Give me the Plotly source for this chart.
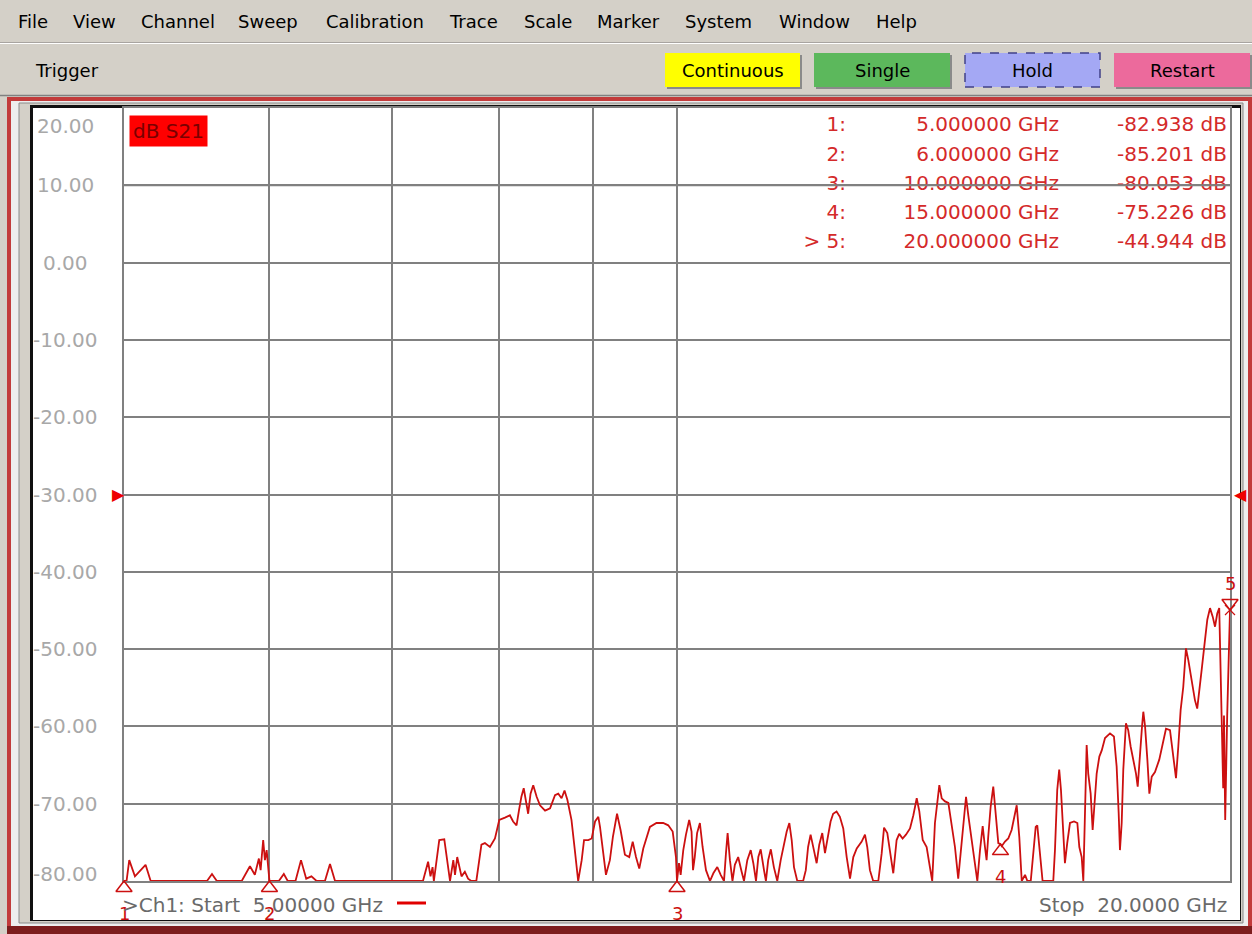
import numpy as np
import plotly.graph_objects as go

# ---------------- data ----------------
freq_ghz = [
    5.000, 5.016, 5.033, 5.069, 5.137, 5.170, 5.548, 5.583, 5.617, 5.795,
    5.855, 5.891, 5.921, 5.934, 5.953, 5.966, 5.979, 6.000, 6.071, 6.109,
    6.139, 6.199, 6.242, 6.283, 6.324, 6.365, 6.432, 6.473, 6.514, 7.273,
    7.320, 7.342, 7.361, 7.373, 7.423, 7.470, 7.524, 7.555, 7.571, 7.592,
    7.633, 7.665, 7.696, 7.727, 7.776, 7.826, 7.860, 7.910, 7.960, 8.003,
    8.060, 8.110, 8.143, 8.178, 8.204, 8.228, 8.252, 8.270, 8.298, 8.323,
    8.351, 8.387, 8.422, 8.476, 8.529, 8.582, 8.617, 8.653, 8.685, 8.716,
    8.761, 8.798, 8.835, 8.874, 8.900, 8.948, 8.986, 9.024, 9.061, 9.080,
    9.117, 9.148, 9.193, 9.228, 9.276, 9.317, 9.368, 9.419, 9.460, 9.499,
    9.538, 9.586, 9.666, 9.746, 9.828, 9.891, 9.946, 9.987, 10.000,
    10.025, 10.046, 10.079, 10.113, 10.154, 10.184, 10.203, 10.225, 10.255, 10.291,
    10.326, 10.370, 10.422, 10.466, 10.518, 10.563, 10.607, 10.633, 10.655, 10.686,
    10.720, 10.752, 10.797, 10.844, 10.876, 10.921, 10.968, 11.004, 11.041, 11.073,
    11.106, 11.152, 11.179, 11.211, 11.248, 11.291, 11.339, 11.388, 11.435, 11.474,
    11.512, 11.546, 11.579, 11.627, 11.713, 11.752, 11.786, 11.823, 11.872, 11.913,
    11.952, 11.997, 12.038, 12.072, 12.123, 12.162, 12.214, 12.265, 12.317, 12.370,
    12.422, 12.473, 12.527, 12.605, 12.657, 12.693, 12.735, 12.788, 12.870, 12.925,
    12.963, 13.016, 13.072, 13.114, 13.169, 13.212, 13.268, 13.324, 13.392, 13.448,
    13.505, 13.549, 13.607, 13.674, 13.730, 13.770, 13.817, 13.858, 13.893, 13.935,
    13.993, 14.051, 14.111, 14.168, 14.226, 14.287, 14.329, 14.366, 14.407, 14.469,
    14.529, 14.571, 14.620, 14.669, 14.711, 14.741, 14.771, 14.816, 14.865, 14.910,
    14.959, 15.000, 15.023, 15.085, 15.147, 15.211, 15.255, 15.308, 15.358, 15.405,
    15.469, 15.514, 15.580, 15.630, 15.677, 15.708, 15.759, 15.813, 16.026, 16.060,
    16.106, 16.146, 16.181, 16.215, 16.262, 16.309, 16.365, 16.448, 16.517, 16.558,
    16.607, 16.641, 16.676, 16.711, 16.744, 16.795, 16.837, 16.871, 16.922, 16.979,
    17.030, 17.100, 17.207, 17.292, 17.351, 17.395, 17.423, 17.461, 17.496, 17.555,
    17.605, 17.658, 17.715, 17.777, 17.815, 17.867, 17.912, 17.941, 17.980, 18.032,
    18.077, 18.131, 18.205, 18.303, 18.382, 18.458, 18.551, 18.628, 18.691, 18.745,
    18.800, 18.862, 18.926, 18.981, 19.062, 19.140, 19.195, 19.243, 19.302, 19.383,
    19.439, 19.505, 19.571, 19.628, 19.683, 19.732, 19.790, 19.830, 19.850, 19.880,
    19.930, 19.982, 20.000,
]
s21_db = [
    -82.938, -80.0, -77.3, -79.4, -77.9, -80.0, -80.0, -79.1, -80.0, -80.0,
    -78.1, -79.2, -77.1, -78.6, -74.7, -77.3, -76.0, -85.201, -80.0, -79.1,
    -80.0, -80.0, -77.3, -79.7, -79.4, -80.0, -80.0, -77.8, -80.0, -80.0,
    -77.5, -79.4, -78.2, -80.0, -74.7, -74.6, -80.0, -77.3, -79.2, -76.9,
    -79.4, -78.8, -79.7, -80.0, -80.0, -75.3, -75.1, -75.6, -74.5, -72.1,
    -71.8, -71.5, -72.3, -72.8, -70.8, -69.1, -68.0, -69.5, -71.3, -68.7,
    -67.6, -69.1, -70.2, -70.9, -70.6, -68.9, -68.7, -69.3, -68.3, -69.5,
    -72.1, -76.0, -80.0, -77.3, -74.7, -74.7, -74.5, -72.3, -71.7, -73.0,
    -76.4, -79.2, -77.3, -74.3, -71.3, -73.4, -76.6, -76.9, -74.9, -76.9,
    -78.4, -75.8, -73.0, -72.5, -72.5, -72.8, -73.6, -76.9, -80.053,
    -77.7, -79.2, -76.0, -74.0, -72.1, -73.6, -78.6, -76.9, -73.8, -72.5,
    -75.6, -78.6, -80.0, -79.0, -78.2, -79.2, -80.0, -76.4, -73.8, -77.3,
    -80.0, -77.9, -76.9, -78.8, -80.0, -77.3, -76.0, -77.7, -80.0, -76.9,
    -75.9, -78.6, -80.0, -77.3, -75.9, -78.2, -80.0, -77.3, -75.1, -73.6,
    -72.5, -74.7, -78.2, -80.0, -80.0, -78.6, -75.6, -74.0, -76.0, -77.7,
    -75.3, -73.8, -76.4, -74.7, -72.3, -71.3, -71.0, -71.7, -73.2, -76.9,
    -79.7, -76.9, -75.8, -74.9, -74.0, -75.6, -78.6, -80.0, -80.0, -76.4,
    -73.1, -73.8, -76.9, -79.0, -74.7, -73.9, -74.5, -74.0, -73.2, -71.5,
    -69.3, -71.0, -74.7, -75.6, -78.2, -80.0, -72.5, -69.3, -67.6, -69.3,
    -69.7, -69.9, -73.0, -75.6, -79.7, -74.7, -71.7, -69.1, -71.5, -74.7,
    -77.3, -80.0, -76.0, -72.9, -75.6, -77.3, -74.3, -70.4, -67.8, -71.9,
    -75.1, -75.226, -75.5, -74.9, -74.5, -73.4, -72.1, -70.2, -74.3, -80.0,
    -79.2, -80.0, -80.0, -76.0, -73.0, -72.8, -76.0, -80.0, -80.0, -76.0,
    -68.2, -65.6, -68.2, -73.0, -77.7, -75.1, -72.5, -72.3, -72.5, -75.6,
    -76.9, -80.0, -68.7, -62.4, -66.1, -68.7, -73.4, -70.0, -66.1, -63.9,
    -63.1, -61.5, -60.9, -61.3, -65.2, -71.2, -76.0, -72.5, -65.6, -59.6,
    -60.5, -62.6, -64.3, -66.1, -67.8, -63.1, -60.0, -58.1, -60.0, -64.3,
    -68.7, -66.5, -65.9, -64.3, -62.2, -60.3, -60.5, -64.3, -66.7, -62.6,
    -57.9, -54.9, -49.9, -51.4, -54.0, -56.6, -57.7, -55.7, -52.7, -48.8,
    -46.2, -44.7, -45.8, -47.1, -45.4, -44.7, -58.6, -68.0, -58.6, -72.1,
    -58.6, -50.0, -44.944,
]

marker_ids = [1, 2, 3, 4, 5]
marker_freq_ghz = [5.0, 6.0, 10.0, 15.0, 20.0]
marker_db = [-82.938, -85.201, -80.053, -75.226, -44.944]
active_marker = 5

trace_label = "dB S21"
ytick_vals = [20, 10, 0, -10, -20, -30, -40, -50, -60, -70, -80]
xgrid_ghz = [6, 7, 8, 9, 10]
ref_level_db = -30
start_ghz, stop_ghz = 5.0, 20.0
y_top, y_bottom = 20, -80

menu_items = ["File", "View", "Channel", "Sweep", "Calibration", "Trace",
              "Scale", "Marker", "System", "Window", "Help"]
toolbar_label = "Trigger"
buttons = ["Continuous", "Single", "Hold", "Restart"]

# ---------------- geometry / style ----------------
W, H = 1252, 934
L, T, PW, PH = 124, 108, 1106, 773
FONT = "DejaVu Sans"
RED = "#cc1010"
TXT_RED = "#d42a2a"
GRID = "#808080"


def X(px):
    return (px - L) / PW


def Y(py):
    return (T + PH - py) / PH


shapes = []
annotations = []


def rect(x0, y0, x1, y1, fill, line=None, lw=0, dash="solid", layer="below"):
    shapes.append(dict(type="rect", xref="paper", yref="paper",
                       x0=X(x0), x1=X(x1), y0=Y(y1), y1=Y(y0),
                       fillcolor=fill, layer=layer,
                       line=dict(color=line or fill, width=lw, dash=dash)))


def hline(x0, x1, y, color, lw=1, layer="below"):
    shapes.append(dict(type="line", xref="paper", yref="paper",
                       x0=X(x0), x1=X(x1), y0=Y(y), y1=Y(y), layer=layer,
                       line=dict(color=color, width=lw)))


def txt(px, py, s, size=18, color="black", xanchor="left", **kw):
    annotations.append(dict(xref="paper", yref="paper", x=X(px), y=Y(py),
                            text=s, showarrow=False, xanchor=xanchor,
                            yanchor="middle",
                            font=dict(family=FONT, size=size, color=color), **kw))


# ---- window chrome: menu + toolbar ----
hline(0, W, 42.5, "#a8a4a0", 1)
hline(0, W, 43.5, "#ffffff", 1)
menu_x = [16, 71, 139, 236, 324, 447, 522, 595, 683, 777, 874]
for name, mx in zip(menu_items, menu_x):
    txt(mx, 21, name, 18)
txt(33, 70, toolbar_label, 18)

btn_geom = [(665, 800, "#ffff00", "#d8d850", "solid"),
            (814, 950, "#5cb85c", "#3f8f3f", "solid"),
            (965, 1100, "#a4a8f4", "#404088", "dash"),
            (1114, 1250, "#ec6a9c", "#b04470", "solid")]
for name, (bx0, bx1, fill, edge, dash) in zip(buttons, btn_geom):
    if dash == "solid":
        rect(bx0 + 2, 55, bx1 + 2, 89, "#8a8a8a")
        rect(bx0, 53, bx1, 87, fill)
    else:
        rect(bx0, 53, bx1, 87, fill, line=edge, lw=1.5, dash="dash")
    txt((bx0 + bx1) / 2, 70, name, 18, xanchor="center")

# ---- analyzer window frame ----
hline(0, W, 95.5, "#808080", 1.5)
rect(7, 97, 1252, 934, "#c23b3b")
rect(11, 101, 1248, 926, "#eeeeee")
rect(7, 926, 1252, 934, "#7d1d1d")
rect(19, 103, 1243, 923, "#d4d0c8", line="#8a8a8a", lw=1)
rect(30, 105, 1241, 921, "#101010")
rect(33, 108, 1240, 920, "#ffffff")

# ---------------- traces ----------------
fig = go.Figure()

s21_disp = np.maximum(np.array(s21_db), y_bottom)
fig.add_trace(go.Scatter(x=freq_ghz, y=s21_disp, mode="lines",
                         line=dict(color=RED, width=1.8), cliponaxis=False,
                         hoverinfo="skip", showlegend=False))

# marker triangles: apex on the (display-clamped) marker value
mk_disp = np.maximum(np.array(marker_db), y_bottom)
fig.add_trace(go.Scatter(
    x=marker_freq_ghz, y=mk_disp,
    mode="markers", cliponaxis=False, showlegend=False, hoverinfo="skip",
    marker=dict(symbol="triangle-up-open", size=14, color=RED,
                angle=[180 if m == active_marker else 0 for m in marker_ids],
                standoff=7, line=dict(color=RED, width=1.5))))
act = marker_ids.index(active_marker)
fig.add_trace(go.Scatter(
    x=[marker_freq_ghz[act]], y=[mk_disp[act]],
    mode="markers", cliponaxis=False, showlegend=False, hoverinfo="skip",
    marker=dict(symbol="x-thin-open", size=10, color=RED,
                line=dict(color=RED, width=1.2))))

for i, m in enumerate(marker_ids):
    annotations.append(dict(xref="x", yref="y", x=np.log10(marker_freq_ghz[i]),
                            y=mk_disp[i], text=str(m), showarrow=False,
                            xanchor="center", yanchor="middle",
                            yshift=27 if m == active_marker else -32,
                            font=dict(family=FONT, size=18, color=RED)))

# marker readout table (text trace on an overlay axis so the grid line can cross it)
row_py = [126, 156, 185, 214, 243]
lab_col = [("> " if m == active_marker else "") + f"{m}:" for m in marker_ids]
frq_col = [f"{f:.6f} GHz" for f in marker_freq_ghz]
val_col = [f"{v:.3f} dB" for v in marker_db]
for col_px, col in ((846, lab_col), (1059, frq_col), (1227, val_col)):
    fig.add_trace(go.Scatter(
        x=[X(col_px)] * len(col), y=[Y(p) for p in row_py], text=col,
        mode="text", textposition="middle left", xaxis="x2", yaxis="y2",
        textfont=dict(family=FONT, size=20, color=TXT_RED),
        showlegend=False, hoverinfo="skip", cliponaxis=False))

# gridline drawn over the table row (as on the instrument)
shapes.append(dict(type="line", xref="paper", yref="y", x0=0, x1=1, y0=10, y1=10,
                   layer="above", line=dict(color=GRID, width=2)))

# y labels
for v in ytick_vals:
    shift = -18 if v == y_top else (7 if v == y_bottom else 0)
    annotations.append(dict(xref="paper", yref="y", x=X(65), y=v, yshift=shift,
                            text=f"{v:.2f}", showarrow=False, xanchor="center",
                            yanchor="middle",
                            font=dict(family=FONT, size=20, color="#a8a8a8")))

# trace label box
annotations.append(dict(xref="paper", yref="paper", x=X(129), y=Y(115),
                        text=trace_label, showarrow=False, xanchor="left",
                        yanchor="top", bgcolor="#ff0000", borderpad=3,
                        font=dict(family=FONT, size=20, color="#7a0000")))

# reference level arrows
annotations.append(dict(xref="paper", yref="y", x=X(118), y=ref_level_db,
                        text="▶", showarrow=False, xanchor="center", yanchor="middle",
                        font=dict(family=FONT, size=16, color="#ee0000")))
annotations.append(dict(xref="paper", yref="y", x=X(1240), y=ref_level_db,
                        text="◀", showarrow=False, xanchor="center", yanchor="middle",
                        font=dict(family=FONT, size=16, color="#ee0000")))

# start / stop annotations
txt(120, 905, f"&gt;Ch1: Start  {start_ghz:.5f} GHz", 20, color="#6a6a6a")
shapes.append(dict(type="line", xref="paper", yref="paper", x0=X(397), x1=X(426),
                   y0=Y(903), y1=Y(903), layer="above",
                   line=dict(color="#e00000", width=3)))
txt(1229, 905, f"Stop  {stop_ghz:.4f} GHz", 20, color="#6a6a6a", xanchor="right")

eps = 1e-7  # keeps the start/stop marker points inside the axis range check
fig.update_layout(
    width=W, height=H,
    margin=dict(l=L, r=W - L - PW, t=T, b=H - T - PH, pad=0),
    paper_bgcolor="#d4d0c8", plot_bgcolor="#ffffff",
    font=dict(family=FONT),
    showlegend=False,
    xaxis=dict(type="log",
               range=[np.log10(start_ghz) - eps, np.log10(stop_ghz) + eps],
               tickvals=xgrid_ghz, showticklabels=False, ticks="",
               showgrid=True, gridcolor=GRID, gridwidth=2, zeroline=False,
               showline=True, linecolor=GRID, linewidth=2, mirror=True,
               layer="below traces", fixedrange=True),
    yaxis=dict(range=[y_bottom - eps, y_top], tickvals=ytick_vals,
               showticklabels=False, ticks="",
               showgrid=True, gridcolor=GRID, gridwidth=2, zeroline=False,
               showline=True, linecolor=GRID, linewidth=2, mirror=True,
               layer="below traces", fixedrange=True),
    xaxis2=dict(overlaying="x", range=[0, 1], visible=False, fixedrange=True),
    yaxis2=dict(overlaying="y", range=[0, 1], visible=False, fixedrange=True),
    shapes=shapes, annotations=annotations,
)

fig.write_html("out.html", config={"displayModeBar": False},
               post_script="document.body.style.margin='0px';")
